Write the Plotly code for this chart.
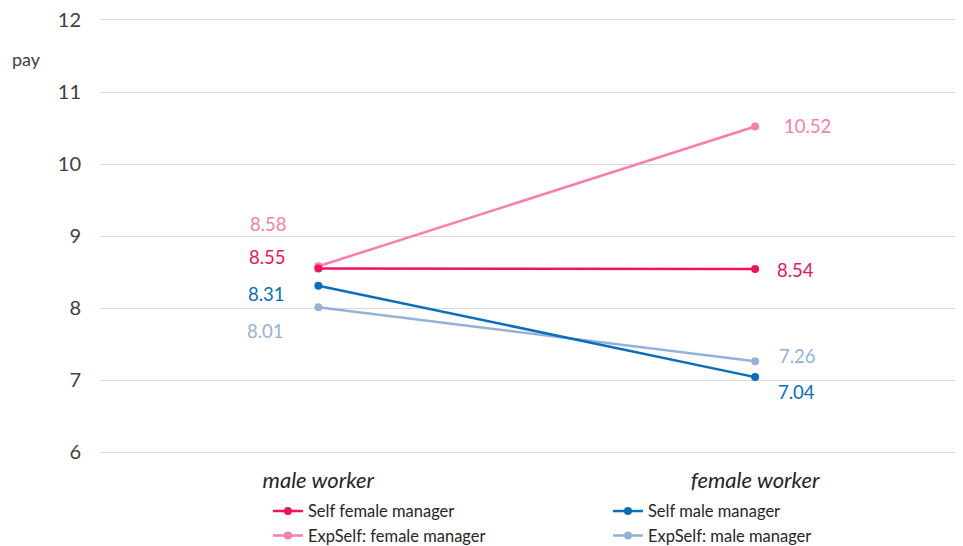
import plotly.graph_objects as go

categories = ["male worker", "female worker"]

series_names = ["Self female manager", "Self male manager",
                "ExpSelf: female manager", "ExpSelf: male manager"]
self_female = [8.55, 8.54]
self_male = [8.31, 7.04]
exp_female = [8.58, 10.52]
exp_male = [8.01, 7.26]

y_ticks = [6, 7, 8, 9, 10, 11, 12]

colors = ["#F0125E", "#0A6EBD", "#F97EAB", "#93B2D9"]
values = [self_female, self_male, exp_female, exp_male]
# label offsets (px) for each series: [left point, right point]
label_shift = [
    [(-51, 11), (40, -1)],
    [(-52, -8), (41, -15)],
    [(-50, 42), (52, 1)],
    [(-53, -24), (42, 5)],
]
# draw order: light lines first, strong lines on top
draw_order = [2, 3, 1, 0]
legend_rank = [1, 2, 3, 4]

font = "Lato, Open Sans, sans-serif"

fig = go.Figure()
for i in draw_order:
    fig.add_trace(go.Scatter(
        x=categories, y=values[i],
        mode="lines+markers",
        name=series_names[i],
        legendrank=legend_rank[i],
        line=dict(color=colors[i], width=2.5),
        marker=dict(color=colors[i], size=8),
        hovertemplate="%{y:.2f}"
    ))

for i in range(4):
    for j, cat in enumerate(categories):
        dx, dy = label_shift[i][j]
        fig.add_annotation(
            x=j, y=values[i][j], xref="x", yref="y",
            text=f"{values[i][j]:.2f}", showarrow=False,
            xshift=dx, yshift=dy,
            font=dict(family=font, size=18.5, color=colors[i])
        )

fig.add_annotation(
    text="pay", xref="paper", yref="paper", x=-0.0846, y=0.91,
    xanchor="center", yanchor="middle", showarrow=False,
    font=dict(family=font, size=18, color="#404040")
)

fig.update_xaxes(
    type="category", range=[-0.5, 1.476],
    showgrid=False, showline=True, linecolor="#D9D9D9", linewidth=1,
    mirror=True, ticks="", ticklabelstandoff=9,
    tickfont=dict(family=font, size=22, color="#262626", style="italic"),
)
fig.update_yaxes(
    range=[6, 12], tickvals=y_ticks, showgrid=True, gridcolor="#D9D9D9",
    gridwidth=1, zeroline=False, showline=False, ticks="",
    ticklabelstandoff=18, ticklabeloverflow="allow",
    tickfont=dict(family=font, size=20, color="#404040"),
)

# page body has an 8px margin, so the figure is a little smaller than the window
fig.update_layout(
    width=955, height=538,
    margin=dict(l=92, r=0, t=12, b=94, autoexpand=False),
    plot_bgcolor="white", paper_bgcolor="white",
    showlegend=True,
    legend=dict(orientation="h", xref="container", yref="container",
                x=0.2722, y=0.097, xanchor="left", yanchor="top",
                entrywidth=295, entrywidthmode="pixels", tracegroupgap=0,
                font=dict(family=font, size=16.5, color="#262626")),
)

fig.write_html("out.html")
